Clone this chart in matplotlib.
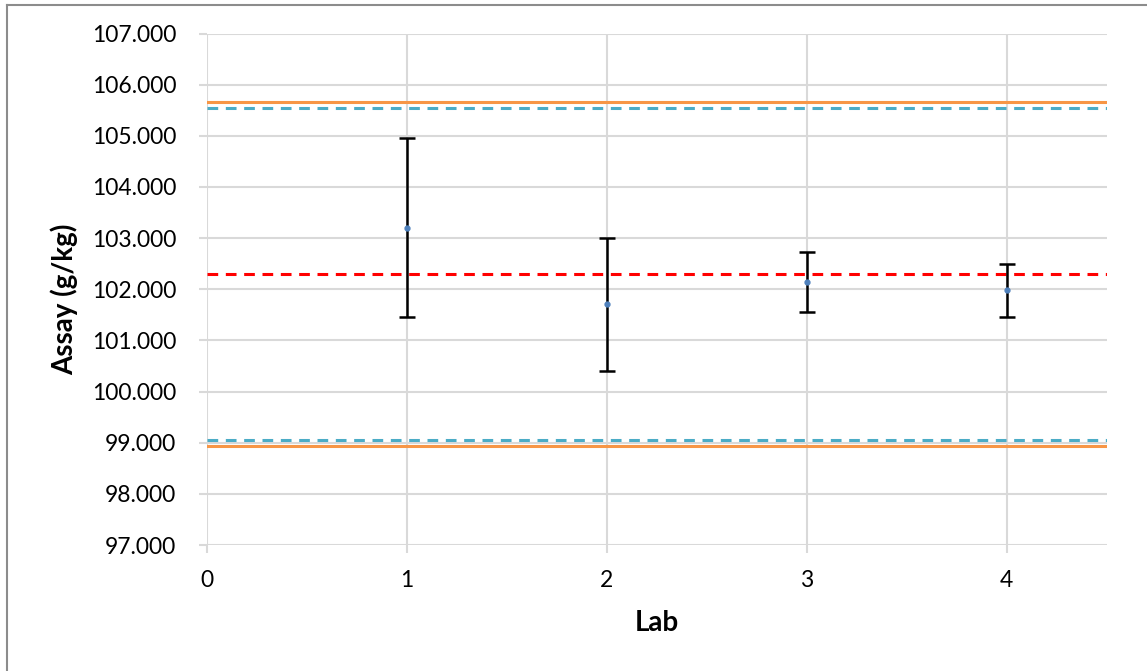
import numpy as np
import matplotlib.pyplot as plt
from matplotlib.lines import Line2D

labs = [1, 2, 3, 4]
assay = [103.204, 101.705, 102.148, 101.980]
err = [1.754, 1.300, 0.590, 0.515]

mean_value = 102.30
upper_limit = 105.655
lower_limit = 98.935
upper_warn = 105.545
lower_warn = 99.055

grid_col = '#d9d9d9'
plt.rcParams['font.family'] = ['Lato', 'DejaVu Sans']

W, H = 1147, 671
fig = plt.figure(figsize=(W / 100, H / 100), dpi=100)
ax = fig.add_axes([206.5 / W, 1 - 545 / H, 900 / W, 511.5 / H])

ax.axhline(upper_limit, color='#f79646', lw=2.2, zorder=2)
ax.axhline(lower_limit, color='#f79646', lw=2.2, zorder=2)
ax.axhline(upper_warn, color='#4bacc6', lw=2.2, ls=(0, (3.5, 2.5)), zorder=2)
ax.axhline(lower_warn, color='#4bacc6', lw=2.2, ls=(0, (3.5, 2.5)), zorder=2)
ax.axhline(mean_value, color='#ff0000', lw=2.2, ls=(0, (3.5, 2.5)), zorder=2)

ax.errorbar(labs, assay, yerr=err, fmt='o', ms=3.5, color='#4f81bd',
            ecolor='black', elinewidth=1.8, capsize=6, capthick=1.8, zorder=3)

ax.set_xlim(0, 4.5)
ax.set_ylim(97, 107)
ax.set_xticks([0, 1, 2, 3, 4])
ax.set_yticks(np.arange(97, 107.5, 1))
ax.yaxis.set_major_formatter(plt.FuncFormatter(lambda v, p: '{:.3f}'.format(v)))
ax.grid(True, color=grid_col, lw=1.5, zorder=0)
ax.set_axisbelow(True)
for s in ax.spines.values():
    s.set_visible(False)
ax.tick_params(axis='both', length=5.8, width=1.5, color=grid_col, labelsize=16.5)
ax.tick_params(axis='y', pad=16)
ax.tick_params(axis='x', pad=12)

ax.set_xlabel('Lab', fontsize=20, fontweight='bold', va='center')
ax.set_ylabel('Assay (g/kg)', fontsize=20, fontweight='bold', va='center')
ax.xaxis.set_label_coords(0.5, (545 - 623) / 511.5)
ax.yaxis.set_label_coords((64 - 206.5) / 900, 0.48)

# chart area frame (only top and left edges visible in the crop)
fig.add_artist(Line2D([7 / W, 7 / W], [0, 1 - 4.5 / H], transform=fig.transFigure,
                      color='#8c8c8c', lw=1.5))
fig.add_artist(Line2D([7 / W, 1], [1 - 4.5 / H, 1 - 4.5 / H], transform=fig.transFigure,
                      color='#8c8c8c', lw=1.5))

fig.savefig('out.png', dpi=100)
